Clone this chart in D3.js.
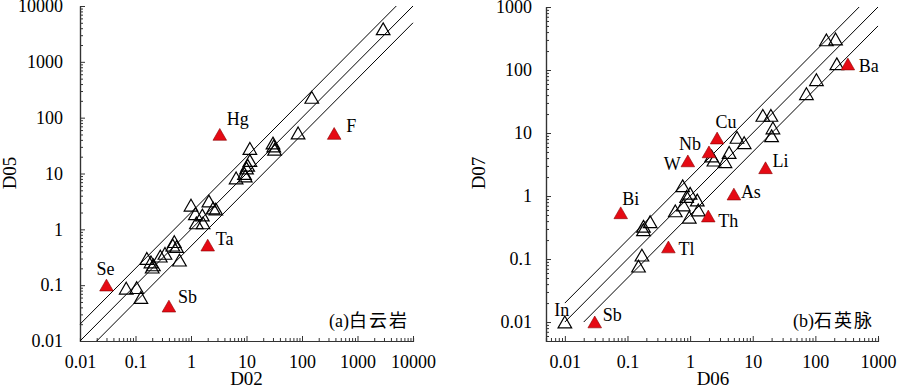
<!DOCTYPE html>
<html>
<head>
<meta charset="utf-8">
<script src="https://cdn.jsdelivr.net/npm/d3@7"></script>
<style>
  body { margin: 0; background: #fff; }
  svg { display: block; font-family: "Liberation Serif", "Times New Roman", "Noto Sans CJK SC", serif; }
</style>
</head>
<body>
<div id="chart"></div>
<script>
// ---- data ----
const ticksA = [0.01, 0.1, 1, 10, 100, 1000, 10000];
const ticksB = [0.01, 0.1, 1, 10, 100, 1000];
const ratios = [2, 1, 0.5];

// (a) dolomite: D02 vs D05
const d02 = [2900, 150, 85, 30, 31, 32, 11.5, 11.5, 10.5, 10, 9.2, 9.5, 6.5,
  1.0, 2.1, 2.8, 2.5, 1.2, 1.6, 1.25, 1.65, 0.5, 0.55, 0.47, 0.62, 0.34, 0.28,
  0.16, 0.19, 0.21, 0.2, 0.068, 0.105, 0.125];
const d05 = [3900, 230, 53, 35, 31, 27, 28, 17, 14, 12.5, 10, 9, 8.3,
  2.7, 3.2, 2.3, 2.4, 1.9, 1.8, 1.3, 1.3, 0.6, 0.49, 0.52, 0.28, 0.37, 0.33,
  0.30, 0.26, 0.23, 0.21, 0.088, 0.09, 0.06];
const namesA = ["Se", "Sb", "Ta", "Hg", "F"];
const xA = [0.03, 0.4, 2, 3.3, 380];
const yA = [0.1, 0.042, 0.52, 50, 52];
const kindA = ["red", "red", "red", "red", "red"];

// (b) quartz vein: D06 vs D07
const d06 = [150, 210, 220, 104, 72, 14.5, 19.5, 21, 20, 5.6, 7.3, 4.2, 3.6, 2.4, 2.2,
  0.76, 1.0, 0.88, 1.3, 0.78, 0.58, 1.35, 0.97, 0.23, 0.18, 0.18, 0.17, 0.15];
const d07 = [300, 310, 125, 70, 42, 19, 19, 12, 9, 8.5, 7, 4.9, 3.5, 3.7, 4.3,
  1.45, 1.1, 0.98, 0.86, 0.72, 0.58, 0.6, 0.46, 0.39, 0.33, 0.29, 0.115, 0.077];
const namesB = ["In", "Sb", "Bi", "Tl", "Th", "As", "W", "Nb", "Cu", "Li", "Ba"];
const xB = [0.01, 0.03, 0.078, 0.45, 1.95, 5, 0.92, 2.0, 2.7, 16, 330];
const yB = [0.01, 0.01, 0.54, 0.155, 0.48, 1.07, 3.6, 5.0, 8.3, 2.8, 124];
const kindB = ["open", "red", "red", "red", "red", "red", "red", "red", "red", "red", "red"];

// label placement: anchor, dx, dy (baseline) in px
const labelPosA = { Se: ["middle", -1, -10], Sb: ["start", 9, -3], Ta: ["start", 8, 0],
  Hg: ["start", 7, -9], F: ["start", 12, -2] };
const labelPosB = { In: ["middle", -3, -6], Sb: ["start", 8, -1], Bi: ["middle", 10, -8],
  Tl: ["start", 10, 8], Th: ["start", 10, 11], As: ["start", 7, 4], W: ["end", -7, 9],
  Nb: ["end", -8, -2], Cu: ["middle", 9, -10], Li: ["start", 7, -1], Ba: ["start", 11, 8] };

const width = 900, height = 389;
const fs = 18;
const svg = d3.select('#chart').append('svg')
  .attr('width', width)
  .attr('height', height);

const tri = 'M0,-6L6.8,5.8L-6.8,5.8Z';

function panel(cfg) {
  const g = svg.append('g');
  const x = d3.scaleLog().domain(cfg.xDom).range(cfg.xRange);
  const y = d3.scaleLog().domain(cfg.yDom).range(cfg.yRange);
  const notDecade = v => Math.abs(Math.log10(v) - Math.round(Math.log10(v))) > 1e-6;

  // axes
  const xg = g.append('g').attr('transform', 'translate(0,' + cfg.yRange[0] + ')');
  xg.append('g').call(d3.axisBottom(x).tickValues(x.ticks().filter(notDecade))
    .tickSize(-3).tickFormat(''));
  xg.append('g').call(d3.axisBottom(x).tickValues(cfg.xTicks)
    .tickSizeInner(-5).tickSizeOuter(0).tickPadding(14).tickFormat(d => String(d)));

  const yg = g.append('g').attr('transform', 'translate(' + cfg.xRange[0] + ',0)');
  yg.append('g').call(d3.axisLeft(y).tickValues(y.ticks().filter(notDecade))
    .tickSize(-3).tickFormat(''));
  yg.append('g').call(d3.axisLeft(y).tickValues(cfg.yTicks)
    .tickSizeInner(-5).tickSizeOuter(0).tickPadding(cfg.yPad).tickFormat(d => String(d)));

  g.selectAll('.domain').attr('stroke', '#333').attr('stroke-width', 1.2);
  g.selectAll('.tick line').attr('stroke', '#333');
  g.selectAll('.tick text').attr('font-size', fs).attr('fill', '#000')
    .attr('font-family', '"Liberation Serif", serif');

  // reference lines y = 2x, y = x, y = x/2
  const lo = 0.01, hi = cfg.lineTop;
  const lineFn = d3.line().x(d => x(d[0])).y(d => y(d[1]));
  ratios.forEach(r => {
    const x0 = Math.max(lo, lo / r), x1 = Math.min(hi, hi / r);
    g.append('path')
      .attr('d', lineFn([[x0, x0 * r], [x1, x1 * r]]))
      .attr('fill', 'none')
      .attr('stroke', '#000')
      .attr('stroke-width', 1);
  });

  // normal points
  g.selectAll('path.open')
    .data(cfg.px.map((v, i) => [v, cfg.py[i]]))
    .enter()
    .append('path')
    .attr('class', 'open')
    .attr('d', tri)
    .attr('transform', d => 'translate(' + x(d[0]) + ',' + y(d[1]) + ')')
    .attr('fill', 'none')
    .attr('stroke', '#000')
    .attr('stroke-width', 1.2);

  // labelled points
  const lab = cfg.names.map((n, i) => ({ n: n, x: cfg.lx[i], y: cfg.ly[i], k: cfg.kind[i] }));
  g.selectAll('path.lab')
    .data(lab)
    .enter()
    .append('path')
    .attr('class', 'lab')
    .attr('d', tri)
    .attr('transform', d => 'translate(' + x(d.x) + ',' + y(d.y) + ')')
    .attr('fill', d => d.k === 'red' ? '#e60a14' : 'none')
    .attr('stroke', d => d.k === 'red' ? '#8a0000' : '#000')
    .attr('stroke-width', d => d.k === 'red' ? 0.6 : 1.2);

  g.selectAll('text.lab')
    .data(lab)
    .enter()
    .append('text')
    .attr('class', 'lab')
    .attr('x', d => x(d.x) + cfg.pos[d.n][1])
    .attr('y', d => y(d.y) + cfg.pos[d.n][2])
    .attr('text-anchor', d => cfg.pos[d.n][0])
    .attr('font-size', fs)
    .text(d => d.n);

  // titles
  g.append('text')
    .attr('x', (cfg.xRange[0] + cfg.xRange[1]) / 2 + cfg.xTitleShift)
    .attr('y', 385)
    .attr('text-anchor', 'middle')
    .attr('font-size', 19)
    .text(cfg.xTitle);

  g.append('text')
    .attr('transform', 'translate(' + cfg.yTitleX + ',173) rotate(-90)')
    .attr('text-anchor', 'middle')
    .attr('font-size', 19)
    .text(cfg.yTitle);

  const t = g.append('text')
    .attr('x', cfg.xRange[1] - 4)
    .attr('y', 327)
    .attr('text-anchor', 'end')
    .attr('font-size', fs);
  t.append('tspan').text(cfg.tag);
  t.append('tspan')
    .attr('font-family', '"Noto Sans CJK SC", sans-serif')
    .attr('letter-spacing', 2)
    .text(cfg.rock);
}

panel({
  xDom: [0.01, 10000], xRange: [80, 413],
  yDom: [0.01, 10000], yRange: [341, 6],
  xTicks: ticksA, yTicks: ticksA, yPad: 17, lineTop: 10000,
  px: d02, py: d05, names: namesA, lx: xA, ly: yA, kind: kindA, pos: labelPosA,
  xTitle: 'D02', yTitle: 'D05', xTitleShift: 0, yTitleX: 16,
  tag: '(a)', rock: '白云岩'
});

panel({
  xDom: [0.005, 1000], xRange: [546, 878],
  yDom: [0.005, 1000], yRange: [341, 7],
  xTicks: ticksB, yTicks: ticksB, yPad: 14, lineTop: 1000,
  px: d06, py: d07, names: namesB, lx: xB, ly: yB, kind: kindB, pos: labelPosB,
  xTitle: 'D06', yTitle: 'D07', xTitleShift: 1, yTitleX: 485,
  tag: '(b)', rock: '石英脉'
});
</script>
</body>
</html>
